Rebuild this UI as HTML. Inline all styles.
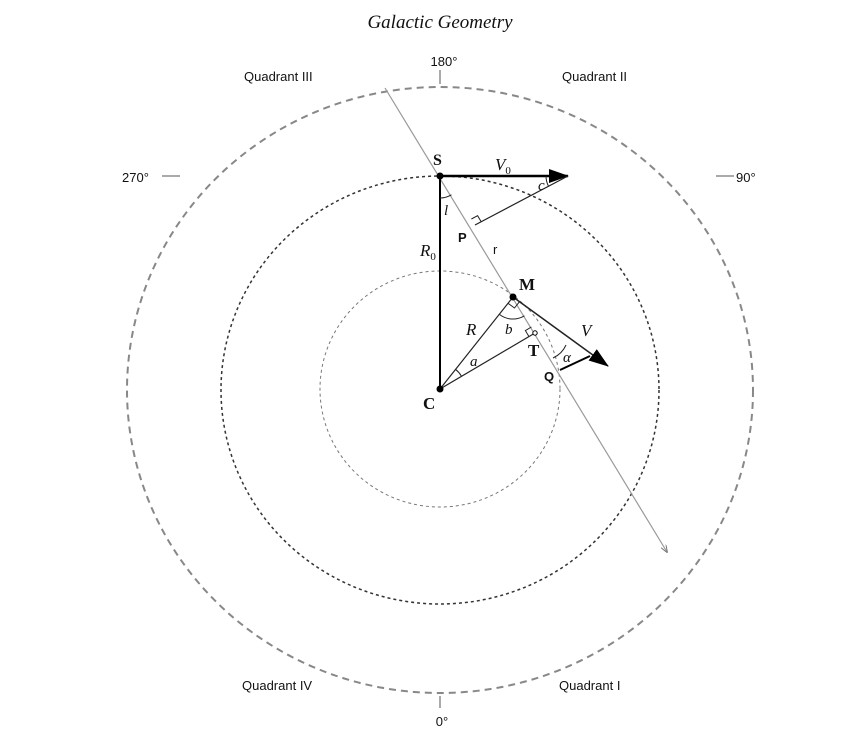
<!DOCTYPE html>
<html><head><meta charset="utf-8"><style>
html,body{margin:0;padding:0;background:#fff;}
svg{display:block}
.s{font-family:"Liberation Sans",sans-serif;font-size:13px;fill:#111}
.m{font-family:"Liberation Serif",serif;fill:#111}
</style></head><body>
<svg width="850" height="739" viewBox="0 0 850 739" xmlns="http://www.w3.org/2000/svg">
<defs>
<marker id="ah" markerWidth="20" markerHeight="14" refX="19" refY="7" orient="auto" markerUnits="userSpaceOnUse">
<path d="M0,0 L20,7 L0,14 Z" fill="#000"/></marker>
<marker id="as" markerWidth="8" markerHeight="6" refX="7" refY="3" orient="auto" markerUnits="userSpaceOnUse">
<path d="M0,0 L8,3 L0,6" fill="none" stroke="#777"/></marker>
</defs>
<text x="440" y="28" text-anchor="middle" class="m" font-style="italic" font-size="19">Galactic Geometry</text>
<ellipse cx="440" cy="390" rx="313" ry="303" fill="none" stroke="#888" stroke-width="2" stroke-dasharray="7,5"/>
<ellipse cx="440" cy="390" rx="219" ry="214" fill="none" stroke="#333" stroke-width="1.5" stroke-dasharray="3,3"/>
<ellipse cx="440" cy="389" rx="120" ry="118" fill="none" stroke="#777" stroke-width="1" stroke-dasharray="3,3"/>
<line x1="440" y1="70" x2="440" y2="84" stroke="#555"/>
<line x1="440" y1="696" x2="440" y2="708" stroke="#555"/>
<line x1="162" y1="176" x2="180" y2="176" stroke="#555"/>
<line x1="716" y1="176" x2="734" y2="176" stroke="#555"/>
<text x="444" y="66" text-anchor="middle" class="s" font-size="16">180°</text>
<text x="442" y="726" text-anchor="middle" class="s" font-size="16">0°</text>
<text x="122" y="182" class="s" font-size="16">270°</text>
<text x="736" y="182" class="s" font-size="16">90°</text>
<text x="244" y="81" class="s">Quadrant III</text>
<text x="562" y="81" class="s">Quadrant II</text>
<text x="242" y="690" class="s">Quadrant IV</text>
<text x="559" y="690" class="s">Quadrant I</text>
<line x1="385" y1="88" x2="667" y2="552" stroke="#999" stroke-width="1.2" marker-end="url(#as)"/>
<line x1="440" y1="176" x2="440" y2="389" stroke="#000" stroke-width="2"/>
<line x1="440" y1="176" x2="568" y2="176" stroke="#000" stroke-width="2.5" marker-end="url(#ah)"/>
<line x1="568" y1="176" x2="475" y2="225" stroke="#222" stroke-width="1.2"/>
<path d="M471.4,219 L477.6,215.7 L481.2,221.7" fill="none" stroke="#222"/>
<path d="M546,176 A22,22 0 0 0 548.5,186.2" fill="none" stroke="#222"/>
<path d="M440,198 A22,22 0 0 0 451.4,194.8" fill="none" stroke="#222"/>
<line x1="440" y1="389" x2="513" y2="297" stroke="#222" stroke-width="1.2"/>
<line x1="440" y1="389" x2="535" y2="333" stroke="#222" stroke-width="1.2"/>
<line x1="513" y1="297" x2="608" y2="366" stroke="#222" stroke-width="1.5" marker-end="url(#ah)"/>
<line x1="560" y1="370" x2="590" y2="356" stroke="#000" stroke-width="2"/>
<path d="M508,303.3 L514.5,308 L519.5,301.7" fill="none" stroke="#222"/>
<path d="M529,336.6 L525.4,330.6 L531.4,327" fill="none" stroke="#222"/>
<path d="M499.4,314.4 A22,22 0 0 0 524.4,315.8" fill="none" stroke="#222"/>
<path d="M455.5,369.3 A25,25 0 0 1 461.5,376.2" fill="none" stroke="#222"/>
<path d="M566,345 A26,26 0 0 1 553,358" fill="none" stroke="#222"/>
<circle cx="440" cy="176" r="3.5" fill="#000"/>
<circle cx="513" cy="297" r="3.5" fill="#000"/>
<circle cx="440" cy="389" r="3.5" fill="#000"/>
<circle cx="535" cy="333" r="2.2" fill="#fff" stroke="#000"/>
<text x="433" y="165" class="m" font-weight="bold" font-size="16">S</text>
<text x="495" y="170" class="m" font-style="italic" font-size="17">V<tspan font-size="11" font-style="normal" dy="4">0</tspan></text>
<text x="538" y="190" class="m" font-style="italic" font-size="15">c</text>
<text x="444" y="215" class="m" font-style="italic" font-size="15">l</text>
<text x="458" y="242" class="s" font-weight="bold" font-size="13">P</text>
<text x="420" y="256" class="m" font-style="italic" font-size="17">R<tspan font-size="11" font-style="normal" dy="4">0</tspan></text>
<text x="493" y="254" class="s" font-size="13">r</text>
<text x="519" y="290" class="m" font-weight="bold" font-size="17">M</text>
<text x="466" y="335" class="m" font-style="italic" font-size="17">R</text>
<text x="505" y="334" class="m" font-style="italic" font-size="15">b</text>
<text x="581" y="336" class="m" font-style="italic" font-size="17">V</text>
<text x="528" y="356" class="m" font-weight="bold" font-size="17">T</text>
<text x="470" y="366" class="m" font-style="italic" font-size="15">a</text>
<text x="563" y="362" class="m" font-style="italic" font-size="15">α</text>
<text x="544" y="381" class="s" font-weight="bold" font-size="14">Q</text>
<text x="423" y="409" class="m" font-weight="bold" font-size="17">C</text>
</svg>
</body></html>
